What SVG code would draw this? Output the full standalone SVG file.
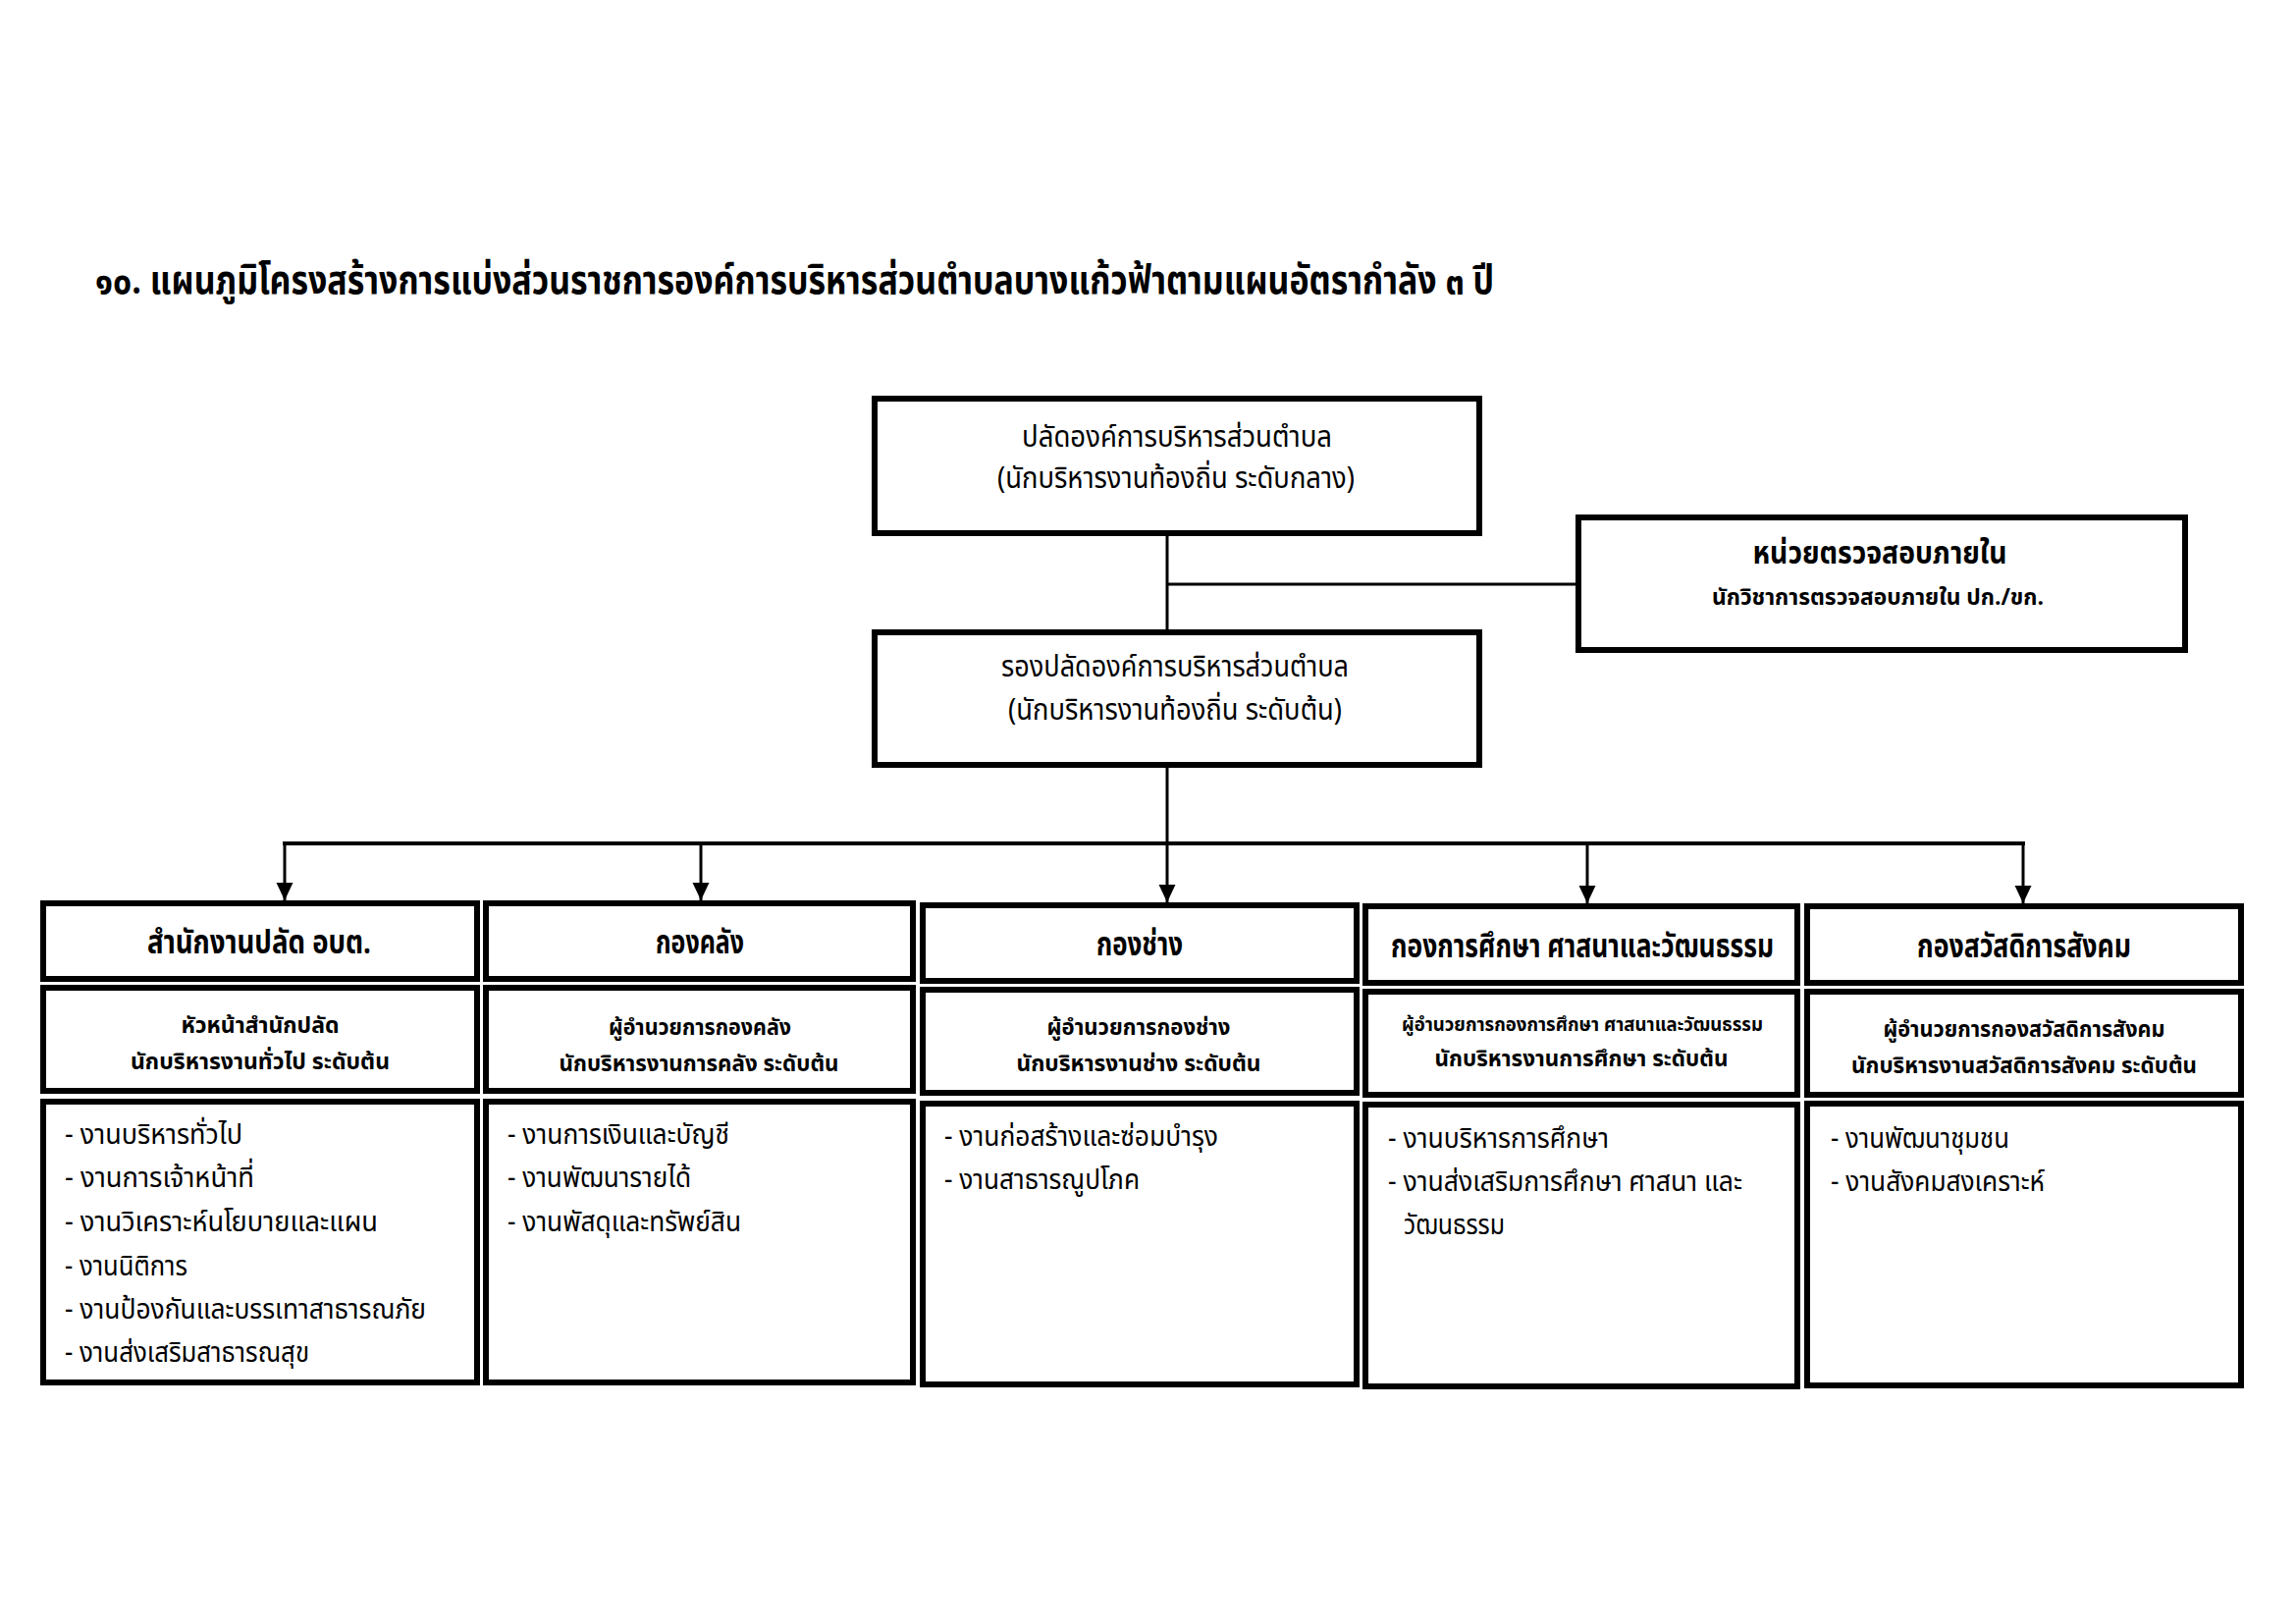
<svg xmlns="http://www.w3.org/2000/svg" width="2339" height="1654" viewBox="0 0 2339 1654">
<style>
text{font-family:"Noto Sans Thai","Noto Sans Thai UI","Noto Sans","DejaVu Sans",sans-serif;fill:#000}
.box{fill:#fff;stroke:#000;stroke-width:6}
.ln{fill:none;stroke:#000;stroke-width:3}
.bus{fill:none;stroke:#000;stroke-width:4}
.t{font-size:40px;font-weight:bold}
.m{font-size:30px;text-anchor:middle}
.h{font-size:33px;font-weight:bold;text-anchor:middle}
.ab{font-size:31px;font-weight:bold;text-anchor:middle}
.as{font-size:23px;font-weight:bold;text-anchor:middle}
.s{font-size:23px;font-weight:bold;text-anchor:middle}
.ss{font-size:20px;font-weight:bold;text-anchor:middle}
.c{font-size:29px}
</style>
<defs>
<marker id="arr" markerUnits="userSpaceOnUse" markerWidth="18" markerHeight="18" viewBox="0 0 17 16" refX="17" refY="8" orient="auto">
<path d="M0,0 L17,8 L0,16 z" fill="#000"/>
</marker>
</defs>
<rect width="2339" height="1654" fill="#fff"/>
<text class="t" x="97" y="299" textLength="1425" lengthAdjust="spacingAndGlyphs">๑๐. แผนภูมิโครงสร้างการแบ่งส่วนราชการองค์การบริหารส่วนตำบลบางแก้วฟ้าตามแผนอัตรากำลัง ๓ ปี</text>

<g id="connectors">
<path class="ln" d="M1189,546 V641"/>
<path class="ln" d="M1189,595 H1605"/>
<path class="ln" d="M1189,782 V859"/>
<path class="bus" d="M288,859 H2063"/>
<path class="ln" d="M290,859 V917" marker-end="url(#arr)"/>
<path class="ln" d="M714,859 V917" marker-end="url(#arr)"/>
<path class="ln" d="M1189,859 V919" marker-end="url(#arr)"/>
<path class="ln" d="M1617,859 V920" marker-end="url(#arr)"/>
<path class="ln" d="M2061,859 V920" marker-end="url(#arr)"/>
</g>

<g id="palat">
<rect class="box" x="891" y="406" width="616" height="137"/>
<text class="m" x="1199" y="455" textLength="316" lengthAdjust="spacingAndGlyphs">ปลัดองค์การบริหารส่วนตำบล</text>
<text class="m" x="1198" y="497" textLength="364" lengthAdjust="spacingAndGlyphs">(นักบริหารงานท้องถิ่น ระดับกลาง)</text>
</g>

<g id="audit">
<rect class="box" x="1608" y="527" width="618" height="135"/>
<text class="ab" x="1915" y="574" textLength="259" lengthAdjust="spacingAndGlyphs">หน่วยตรวจสอบภายใน</text>
<text class="as" x="1913" y="616" textLength="338" lengthAdjust="spacingAndGlyphs">นักวิชาการตรวจสอบภายใน ปก./ขก.</text>
</g>

<g id="rongpalat">
<rect class="box" x="891" y="644" width="616" height="135"/>
<text class="m" x="1197" y="689" textLength="354" lengthAdjust="spacingAndGlyphs">รองปลัดองค์การบริหารส่วนตำบล</text>
<text class="m" x="1197" y="733" textLength="340" lengthAdjust="spacingAndGlyphs">(นักบริหารงานท้องถิ่น ระดับต้น)</text>
</g>

<g id="dept1">
<rect class="box" x="44" y="920" width="442" height="77"/>
<rect class="box" x="44" y="1006" width="442" height="105"/>
<rect class="box" x="44" y="1122" width="442" height="286"/>
<text class="h" x="264" y="971" textLength="228" lengthAdjust="spacingAndGlyphs">สำนักงานปลัด อบต.</text>
<text class="s" x="265" y="1052" textLength="161" lengthAdjust="spacingAndGlyphs">หัวหน้าสำนักปลัด</text>
<text class="s" x="265" y="1089" textLength="264" lengthAdjust="spacingAndGlyphs">นักบริหารงานทั่วไป ระดับต้น</text>
<text class="c" x="66" y="1165" textLength="181" lengthAdjust="spacingAndGlyphs">- งานบริหารทั่วไป</text>
<text class="c" x="66" y="1209" textLength="193" lengthAdjust="spacingAndGlyphs">- งานการเจ้าหน้าที่</text>
<text class="c" x="66" y="1254" textLength="319" lengthAdjust="spacingAndGlyphs">- งานวิเคราะห์นโยบายและแผน</text>
<text class="c" x="66" y="1299" textLength="125" lengthAdjust="spacingAndGlyphs">- งานนิติการ</text>
<text class="c" x="66" y="1343" textLength="368" lengthAdjust="spacingAndGlyphs">- งานป้องกันและบรรเทาสาธารณภัย</text>
<text class="c" x="66" y="1387" textLength="249" lengthAdjust="spacingAndGlyphs">- งานส่งเสริมสาธารณสุข</text>
</g>

<g id="dept2">
<rect class="box" x="495" y="920" width="435" height="77"/>
<rect class="box" x="495" y="1006" width="435" height="105"/>
<rect class="box" x="495" y="1122" width="435" height="286"/>
<text class="h" x="713" y="971" textLength="90" lengthAdjust="spacingAndGlyphs">กองคลัง</text>
<text class="s" x="713" y="1054" textLength="186" lengthAdjust="spacingAndGlyphs">ผู้อำนวยการกองคลัง</text>
<text class="s" x="712" y="1091" textLength="285" lengthAdjust="spacingAndGlyphs">นักบริหารงานการคลัง ระดับต้น</text>
<text class="c" x="517" y="1165" textLength="226" lengthAdjust="spacingAndGlyphs">- งานการเงินและบัญชี</text>
<text class="c" x="517" y="1209" textLength="187" lengthAdjust="spacingAndGlyphs">- งานพัฒนารายได้</text>
<text class="c" x="517" y="1254" textLength="238" lengthAdjust="spacingAndGlyphs">- งานพัสดุและทรัพย์สิน</text>
</g>

<g id="dept3">
<rect class="box" x="940" y="922" width="442" height="77"/>
<rect class="box" x="940" y="1008" width="442" height="105"/>
<rect class="box" x="940" y="1124" width="442" height="286"/>
<text class="h" x="1161" y="973" textLength="88" lengthAdjust="spacingAndGlyphs">กองช่าง</text>
<text class="s" x="1160" y="1054" textLength="187" lengthAdjust="spacingAndGlyphs">ผู้อำนวยการกองช่าง</text>
<text class="s" x="1160" y="1091" textLength="249" lengthAdjust="spacingAndGlyphs">นักบริหารงานช่าง ระดับต้น</text>
<text class="c" x="962" y="1167" textLength="279" lengthAdjust="spacingAndGlyphs">- งานก่อสร้างและซ่อมบำรุง</text>
<text class="c" x="962" y="1211" textLength="199" lengthAdjust="spacingAndGlyphs">- งานสาธารณูปโภค</text>
</g>

<g id="dept4">
<rect class="box" x="1391" y="923" width="440" height="78"/>
<rect class="box" x="1391" y="1010" width="440" height="105"/>
<rect class="box" x="1391" y="1125" width="440" height="287"/>
<text class="h" x="1612" y="975" textLength="390" lengthAdjust="spacingAndGlyphs">กองการศึกษา ศาสนาและวัฒนธรรม</text>
<text class="ss" x="1612" y="1050" textLength="368" lengthAdjust="spacingAndGlyphs">ผู้อำนวยการกองการศึกษา ศาสนาและวัฒนธรรม</text>
<text class="s" x="1611" y="1086" textLength="299" lengthAdjust="spacingAndGlyphs">นักบริหารงานการศึกษา ระดับต้น</text>
<text class="c" x="1414" y="1169" textLength="225" lengthAdjust="spacingAndGlyphs">- งานบริหารการศึกษา</text>
<text class="c" x="1414" y="1213" textLength="361" lengthAdjust="spacingAndGlyphs">- งานส่งเสริมการศึกษา ศาสนา และ</text>
<text class="c" x="1430" y="1257" textLength="103" lengthAdjust="spacingAndGlyphs">วัฒนธรรม</text>
</g>

<g id="dept5">
<rect class="box" x="1841" y="923" width="442" height="78"/>
<rect class="box" x="1841" y="1010" width="442" height="105"/>
<rect class="box" x="1841" y="1124" width="442" height="287"/>
<text class="h" x="2062" y="975" textLength="218" lengthAdjust="spacingAndGlyphs">กองสวัสดิการสังคม</text>
<text class="s" x="2062" y="1056" textLength="287" lengthAdjust="spacingAndGlyphs">ผู้อำนวยการกองสวัสดิการสังคม</text>
<text class="s" x="2062" y="1093" textLength="352" lengthAdjust="spacingAndGlyphs">นักบริหารงานสวัสดิการสังคม ระดับต้น</text>
<text class="c" x="1865" y="1169" textLength="182" lengthAdjust="spacingAndGlyphs">- งานพัฒนาชุมชน</text>
<text class="c" x="1865" y="1213" textLength="218" lengthAdjust="spacingAndGlyphs">- งานสังคมสงเคราะห์</text>
</g>
</svg>
